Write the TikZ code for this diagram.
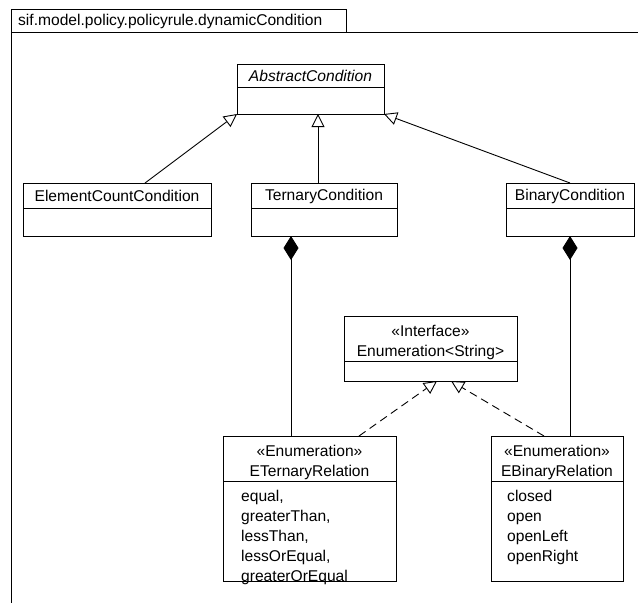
\documentclass[tikz,border=0pt]{standalone}
\usepackage{fontspec}
\setmainfont{Liberation Sans}
\usetikzlibrary{arrows.meta,calc}
\begin{document}
\begin{tikzpicture}[x=1pt,y=-1pt,
  line/.style={line width=0.9pt},
  txt/.style={inner sep=0pt,font=\fontsize{15.6}{20}\selectfont},
  gen/.style={line width=0.9pt,-{Triangle[open,length=13pt,width=13pt]}},
  real/.style={line width=0.9pt,dash pattern=on 8pt off 5pt,-{Triangle[open,length=13pt,width=13pt]}},
  comp/.style={line width=0.9pt,{Diamond[length=24pt,width=15pt]}-},
]
\useasboundingbox (0,0) rectangle (638,603);
% frame
\draw[line] (11,603) -- (11,9) -- (346,9) -- (346,32.5);
\draw[line] (11,32.5) -- (638,32.5);
\node[txt,anchor=west] (pkg) at (18,21) {sif.model.policy.policyrule.dynamicCondition};
% AbstractCondition
\draw[line] (237,64) rectangle (384,114);
\draw[line] (237,87) -- (384,87);
\node[txt] (abstxt) at (310.5,76) {\itshape AbstractCondition};
\coordinate (absL) at (237,114);
\coordinate (absM) at (318,114);
\coordinate (absR) at (384,114);
% ElementCountCondition
\draw[line] (23,183) rectangle (211,236);
\draw[line] (23,208) -- (211,208);
\node[txt] (ecc) at (117,196) {ElementCountCondition};
\coordinate (eccT) at (145,183);
% TernaryCondition
\draw[line] (251,183) rectangle (397,236);
\draw[line] (251,208) -- (397,208);
\node[txt] (tc) at (324,196) {TernaryCondition};
\coordinate (tcT) at (318,183);
\coordinate (tcB) at (291,236);
% BinaryCondition
\draw[line] (506,183) rectangle (634,236);
\draw[line] (506,208) -- (634,208);
\node[txt] (bc) at (570,196) {BinaryCondition};
\coordinate (bcT) at (570,183);
\coordinate (bcB) at (570,236);
% Interface
\draw[line] (344,316) rectangle (517,381);
\draw[line] (344,361) -- (517,361);
\node[txt,align=center] (ifc) at (430.5,342) {«Interface»\\Enumeration<String>};
\coordinate (ifcL) at (437,381);
\coordinate (ifcR) at (451,381);
% ETernaryRelation
\draw[line] (223,436) rectangle (396,581);
\draw[line] (223,481) -- (396,481);
\node[txt,align=center] (etr) at (309.5,462) {«Enumeration»\\ETernaryRelation};
\node[txt,align=left,anchor=north west] (etrv) at (241,490) {equal,\\greaterThan,\\lessThan,\\lessOrEqual,\\greaterOrEqual};
\coordinate (etrT) at (291,436);
\coordinate (etrTR) at (359,436);
% EBinaryRelation
\draw[line] (491,436) rectangle (623,581);
\draw[line] (491,481) -- (623,481);
\node[txt,align=center] (ebr) at (557,462) {«Enumeration»\\EBinaryRelation};
\node[txt,align=left,anchor=north west] (ebrv) at (507,490) {closed\\open\\openLeft\\openRight};
\coordinate (ebrT) at (570,436);
\coordinate (ebrTL) at (544,436);
% connectors
\draw[gen] (eccT) -- (absL);
\draw[gen] (tcT) -- (absM);
\draw[gen] (bcT) -- (absR);
\draw[comp] (tcB) -- (etrT);
\draw[comp] (bcB) -- (ebrT);
\draw[real] (etrTR) -- (ifcL);
\draw[real] (ebrTL) -- (ifcR);
\end{tikzpicture}
\end{document}
